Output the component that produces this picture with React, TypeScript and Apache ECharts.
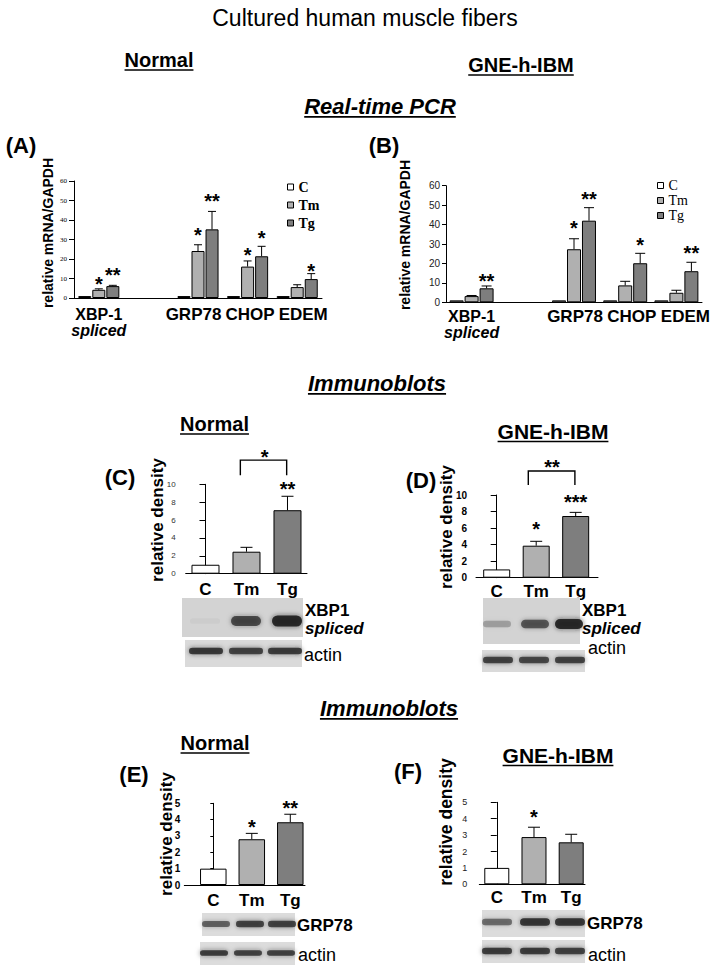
import React, { useEffect, useRef } from 'react';
import * as echarts from 'echarts';

const SANS = '"Liberation Sans", Arial, Helvetica, sans-serif';
const SERIF = '"Liberation Serif", "Times New Roman", serif';

// ---------------- data ----------------
const treatments = ['C', 'Tm', 'Tg'];
const pcrGenes = ['XBP-1', '', 'GRP78', 'CHOP', 'EDEM'];
const pcrSubLabel = 'spliced';

// (A) Normal, real-time PCR (relative mRNA/GAPDH)
const aC = [1, null, 1, 1, 1];
const aTm = [4.2, null, 24.1, 16.1, 5.6];
const aTg = [6.1, null, 35.2, 21.4, 9.7];
const aTmErr = [4.7, null, 27.3, 19.0, 6.8];
const aTgErr = [6.5, null, 44.4, 26.5, 12.5];
const aStars: [number, number, number, string][] = [
  [0, 1, 9.7, '*'], [0, 2, 14.1, '**'], [2, 1, 34.4, '*'], [2, 2, 51.8, '**'],
  [3, 1, 24.4, '*'], [3, 2, 33.3, '*'], [4, 2, 16.2, '*'],
];

// (B) GNE-h-IBM, real-time PCR
const bC = [1, null, 1, 1, 1];
const bTm = [3.2, null, 27.3, 8.7, 4.9];
const bTg = [7.2, null, 42.0, 20.1, 16.0];
const bTmErr = [3.5, null, 32.7, 10.8, 6.2];
const bTgErr = [8.4, null, 48.7, 25.2, 20.6];
const bStars: [number, number, number, string][] = [
  [0, 2, 13.3, '**'], [2, 1, 40.3, '*'], [2, 2, 55.5, '**'], [3, 2, 31.9, '*'], [4, 2, 27.8, '**'],
];

// (C) Normal, XBP1 spliced immunoblot density
const cVals = [1, 2.46, 7.1];
const cErr = [null, 2.95, 8.66];
const cStars: [number, number, string][] = [[2, 10.0, '**'], [1.44, 13.55, '*']];
const cBracket = [0.85, 1.98, 12.7, 11.0];

// (D) GNE-h-IBM, XBP1 spliced
const dVals = [1, 3.87, 7.46];
const dErr = [null, 4.4, 7.9];
const dStars: [number, number, string][] = [[1, 6.4, '*'], [2, 9.7, '***'], [1.4, 13.9, '**']];
const dBracket = [0.8, 1.98, 12.9, 11.2];

// (E) Normal, GRP78
const eVals = [1, 2.8, 3.84];
const eErr = [null, 3.16, 4.33];
const eStars: [number, number, string][] = [[1, 3.83, '*'], [2, 5.0, '**']];

// (F) GNE-h-IBM, GRP78
const fVals = [1, 2.88, 2.56];
const fErr = [null, 3.48, 3.05];
const fStars: [number, number, string][] = [[1, 4.35, '*']];

// blot band intensities per lane (C, Tm, Tg)
const xbpNormalBands = [0.04, 0.8, 1.0];
const actinNormalBands = [0.9, 0.85, 0.88];
const xbpIbmBands = [0.3, 0.7, 1.0];
const actinIbmBands = [0.85, 0.82, 0.85];
const grpNormalBands = [0.65, 0.85, 0.85];
const actin2NormalBands = [0.88, 0.85, 0.85];
const grpIbmBands = [0.6, 0.92, 0.92];
const actin2IbmBands = [0.88, 0.88, 0.85];

// ---------------- styling ----------------
const COLORS = ['#ffffff', '#b0b0b0', '#7e7e7e'];

const measureCtx = (() => {
  const c = document.createElement('canvas');
  return c.getContext('2d') as CanvasRenderingContext2D;
})();
function textW(text: string, size: number, weight = 'normal', style = 'normal', family = SANS) {
  measureCtx.font = `${style} ${weight} ${size}px ${family}`;
  return measureCtx.measureText(text).width;
}

function txt(text: string, x: number, y: number, size: number, o: any = {}) {
  return {
    type: 'text', x, y, rotation: o.rotation || 0, z: 50,
    style: {
      text, fontFamily: o.family || SANS, fontSize: size, fontWeight: o.weight || 'normal',
      fontStyle: o.style || 'normal', fill: '#000', align: o.align || 'center', verticalAlign: 'middle',
    },
  };
}

function heading(text: string, cx: number, cy: number, size: number, weight: string, style: string, ul: boolean) {
  const out: any[] = [txt(text, cx, cy, size, { weight, style })];
  if (ul) {
    const w = textW(text, size, weight, style);
    const y = cy + size * 0.45 + 1;
    out.push({ type: 'line', z: 50, shape: { x1: cx - w / 2, y1: y, x2: cx + w / 2, y2: y }, style: { stroke: '#000', lineWidth: 1.6 } });
  }
  return out;
}

function blot(x: number, y: number, w: number, h: number, bandY: number, bandH: number, lanes: number[], laneW: number, bands: number[], bg: string) {
  const els: any[] = [{ type: 'rect', z: 40, shape: { x, y, width: w, height: h }, style: { fill: bg } }];
  bands.forEach((a, i) => {
    const hh = bandH * (0.5 + 0.5 * a);
    els.push({
      type: 'rect', z: 41,
      shape: { x: lanes[i] - laneW / 2, y: bandY - hh / 2, width: laneW, height: hh, r: hh / 2 },
      style: { fill: `rgba(30,30,30,${a * 0.9})`, shadowBlur: 5, shadowColor: `rgba(30,30,30,${a * 0.7})` },
    });
  });
  return els;
}

// ---------------- series builders ----------------
const errRender = (step: number, cap: number) => (params: any, api: any) => {
  const x = api.value(0), m = api.value(1), e = api.value(2), t = api.value(3);
  const p0 = api.coord([x, m]);
  const p1 = api.coord([x, e]);
  const cx = p0[0] + (t - 1) * step;
  return {
    type: 'group',
    children: [
      { type: 'line', shape: { x1: cx, y1: p0[1], x2: cx, y2: p1[1] }, style: { stroke: '#000', lineWidth: 1 } },
      { type: 'line', shape: { x1: cx - cap, y1: p1[1], x2: cx + cap, y2: p1[1] }, style: { stroke: '#000', lineWidth: 1 } },
    ],
  };
};

function pcrPanel(g: number, c: any[], tm: any[], tg: any[], tmErr: any[], tgErr: any[], stars: any[], barWidth: number, gap: string, step: number, cap: number) {
  const vals = [c, tm, tg];
  const series: any[] = treatments.map((name, k) => ({
    type: 'bar', name, xAxisIndex: g, yAxisIndex: g, data: vals[k], barWidth, barGap: gap,
    itemStyle: { color: COLORS[k], borderColor: '#000', borderWidth: 1 }, z: 2,
  }));
  const errData: number[][] = [];
  [tmErr, tgErr].forEach((arr, j) => arr.forEach((v: any, i: number) => {
    if (v != null) errData.push([i, vals[j + 1][i], v, j + 1]);
  }));
  series.push({ type: 'custom', xAxisIndex: g, yAxisIndex: g, clip: false, z: 5, data: errData, renderItem: errRender(step, cap) });
  series.push({
    type: 'custom', xAxisIndex: g, yAxisIndex: g, clip: false, z: 6,
    data: stars.map((s) => [s[0], s[2], s[1]]),
    renderItem: (params: any, api: any) => {
      const s = stars[params.dataIndex];
      const p = api.coord([api.value(0), api.value(1)]);
      return {
        type: 'text', x: p[0] + (api.value(2) - 1) * step, y: p[1] + 4.5,
        style: { text: s[3], fontFamily: SANS, fontSize: 20, fontWeight: 'bold', fill: '#000', align: 'center', verticalAlign: 'middle' },
      };
    },
  });
  return series;
}

function blotPanel(g: number, vals: number[], err: any[], stars: any[], bracket: number[] | null, barWidth: number, cap: number, labelDy: number, labelSize: number) {
  const series: any[] = [{
    type: 'bar', xAxisIndex: g, yAxisIndex: g, barWidth,
    data: vals.map((v, i) => ({ value: [i, v], itemStyle: { color: COLORS[i] } })),
    itemStyle: { borderColor: '#000', borderWidth: 1 }, z: 2,
  }];
  const errData: number[][] = [];
  err.forEach((v, i) => { if (v != null) errData.push([i, vals[i], v, 1]); });
  series.push({ type: 'custom', xAxisIndex: g, yAxisIndex: g, clip: false, z: 5, data: errData, renderItem: errRender(0, cap) });
  series.push({
    type: 'custom', xAxisIndex: g, yAxisIndex: g, clip: false, z: 6,
    data: stars.map((s) => [s[0], s[1]]),
    renderItem: (params: any, api: any) => {
      const s = stars[params.dataIndex];
      const p = api.coord([api.value(0), api.value(1)]);
      return {
        type: 'text', x: p[0], y: p[1] + 4.5,
        style: { text: s[2], fontFamily: SANS, fontSize: 20, fontWeight: 'bold', fill: '#000', align: 'center', verticalAlign: 'middle' },
      };
    },
  });
  series.push({
    type: 'custom', xAxisIndex: g, yAxisIndex: g, clip: false, z: 6,
    data: treatments.map((_, i) => [i, 0]),
    renderItem: (params: any, api: any) => {
      const p = api.coord([api.value(0), api.value(1)]);
      return {
        type: 'text', x: p[0], y: p[1] + labelDy,
        style: { text: treatments[params.dataIndex], fontFamily: SANS, fontSize: labelSize, fontWeight: 'bold', fill: '#000', align: 'center', verticalAlign: 'middle' },
      };
    },
  });
  if (bracket) {
    series.push({
      type: 'custom', xAxisIndex: g, yAxisIndex: g, clip: false, z: 6,
      data: [bracket],
      renderItem: (params: any, api: any) => {
        const a = api.coord([api.value(0), api.value(3)]);
        const b = api.coord([api.value(0), api.value(2)]);
        const c = api.coord([api.value(1), api.value(2)]);
        const d = api.coord([api.value(1), api.value(3)]);
        return { type: 'polyline', shape: { points: [a, b, c, d] }, style: { stroke: '#000', lineWidth: 1.4, fill: 'none' } };
      },
    });
  }
  return series;
}

function yAx(g: number, max: number, interval: number, fontSize: number, family: string, weight: string, margin: number, tickLen: number, color = '#000') {
  return {
    type: 'value', gridIndex: g, min: 0, max, interval,
    axisLine: { show: true, lineStyle: { color: '#000', width: 1 } },
    axisTick: { show: true, length: tickLen, lineStyle: { color: '#000' } },
    axisLabel: { fontSize, fontFamily: family, fontWeight: weight, color, margin },
    splitLine: { show: false },
  };
}

function xValAx(g: number, min: number, max: number) {
  return {
    type: 'value', gridIndex: g, min, max,
    axisLine: { show: true, onZero: false, lineStyle: { color: '#000', width: 1 } },
    axisTick: { show: false }, axisLabel: { show: false }, splitLine: { show: false },
  };
}

// label nudges (px of padding) so the gene names sit as in the original figure
function xCatAx(g: number, margin: number, pads: number[][]) {
  const base = { fontFamily: SANS, fontWeight: 'bold', fontSize: 17, lineHeight: 16, color: '#000' };
  return {
    type: 'category', gridIndex: g, data: pcrGenes,
    axisLine: { lineStyle: { color: '#000', width: 1 } }, axisTick: { show: false },
    axisLabel: {
      interval: 0, margin,
      formatter: (v: string) => {
        if (v === 'XBP-1') return `{a|${v}}\n{b|${pcrSubLabel}}`;
        const i = pcrGenes.indexOf(v);
        return v ? `{g${i}|${v}}` : '';
      },
      rich: {
        a: { ...base, fontSize: 16 },
        b: { ...base, fontSize: 16, fontStyle: 'italic' },
        g2: { ...base, padding: pads[0] },
        g3: { ...base, padding: pads[1] },
        g4: { ...base, padding: pads[2] },
      },
    },
  };
}

function buildOption() {
  const grids = [
    { left: 74, top: 181, width: 248, height: 117 },
    { left: 446, top: 185.7, width: 256, height: 116.6 },
    { left: 185.7, top: 484.3, width: 121.3, height: 89.4 },
    { left: 476, top: 495, width: 122, height: 82.7 },
    { left: 184.3, top: 803.3, width: 120.7, height: 81.7 },
    { left: 479.3, top: 802.3, width: 105.7, height: 82 },
  ].map((g) => ({ ...g, outerBoundsMode: 'none', containLabel: false }));

  const xAxis = [
    xCatAx(0, 8, [[0, 9, 0, 0], [0, 0, 0, 5], [0, 0, 0, 12]]),
    xCatAx(1, 6, [[0, 0, 0, 2], [0, 0, 0, 13], [0, 0, 0, 18]]),
    xValAx(2, -0.483, 2.476), xValAx(3, -0.524, 2.565), xValAx(4, -0.753, 2.382), xValAx(5, -0.47, 2.371),
  ];
  const yAxis = [
    yAx(0, 60, 10, 7, SERIF, 'normal', 7, 5),
    yAx(1, 60, 10, 10, SANS, 'normal', 6, 4, '#222'),
    yAx(2, 10, 2, 8, SANS, 'normal', 10, 6, '#333'),
    yAx(3, 10, 2, 10, SANS, 'bold', 9, 6),
    yAx(4, 5, 1, 10, SANS, 'bold', 4, 3),
    yAx(5, 5, 1, 9, SANS, 'normal', 12, 6, '#222'),
  ];

  const series = [
    ...pcrPanel(0, aC, aTm, aTg, aTmErr, aTgErr, aStars, 13, '8%', 14, 4),
    ...pcrPanel(1, bC, bTm, bTg, bTmErr, bTgErr, bStars, 14, '7%', 15, 5),
    ...blotPanel(2, cVals, cErr, cStars, cBracket, 28, 6, 16, 17),
    ...blotPanel(3, dVals, dErr, dStars, dBracket, 27, 6, 14, 17),
    ...blotPanel(4, eVals, eErr, eStars, null, 26.5, 6, 15, 17),
    ...blotPanel(5, fVals, fErr, fStars, null, 25, 6, 13, 17),
  ];

  const legendBase = {
    orient: 'vertical', icon: 'rect', itemWidth: 6, itemHeight: 6, selectedMode: false, padding: 0,
    data: treatments, itemStyle: { borderColor: '#000', borderWidth: 1 },
  };
  const legend = [
    { ...legendBase, left: 287, top: 180, itemGap: 4, textStyle: { fontFamily: SERIF, fontSize: 14, lineHeight: 14, fontWeight: 'bold', color: '#000' } },
    { ...legendBase, left: 657, top: 178.5, itemGap: 1, textStyle: { fontFamily: SERIF, fontSize: 14, lineHeight: 13, color: '#000' } },
  ];

  const graphic: any[] = [
    ...heading('Cultured human muscle fibers', 365, 18, 23, 'normal', 'normal', false),
    ...heading('Normal', 159, 60, 20, 'bold', 'normal', true),
    ...heading('GNE-h-IBM', 521, 65, 20, 'bold', 'normal', true),
    ...heading('Real-time PCR', 380, 106, 22, 'bold', 'italic', true),
    ...heading('Immunoblots', 377, 383, 22, 'bold', 'italic', true),
    ...heading('Normal', 214.5, 424, 20, 'bold', 'normal', true),
    ...heading('GNE-h-IBM', 553, 431, 21, 'bold', 'normal', true),
    ...heading('Immunoblots', 389, 708, 22, 'bold', 'italic', true),
    ...heading('Normal', 215, 743, 20, 'bold', 'normal', true),
    ...heading('GNE-h-IBM', 558, 755, 21, 'bold', 'normal', true),
    txt('(A)', 21, 145, 22, { weight: 'bold' }),
    txt('(B)', 384, 145, 22, { weight: 'bold' }),
    txt('(C)', 120, 477, 22, { weight: 'bold' }),
    txt('(D)', 421, 480, 22, { weight: 'bold' }),
    txt('(E)', 134, 774, 22, { weight: 'bold' }),
    txt('(F)', 408, 771, 22, { weight: 'bold' }),
    txt('relative mRNA/GAPDH', 48, 233, 14, { weight: 'bold', rotation: Math.PI / 2 }),
    txt('relative mRNA/GAPDH', 405, 235, 14, { weight: 'bold', rotation: Math.PI / 2 }),
    txt('relative density', 157, 520, 17, { weight: 'bold', rotation: Math.PI / 2 }),
    txt('relative density', 446, 527, 17, { weight: 'bold', rotation: Math.PI / 2 }),
    txt('relative density', 166, 834, 17, { weight: 'bold', rotation: Math.PI / 2 }),
    txt('relative density', 446, 822, 17.5, { weight: 'bold', rotation: Math.PI / 2 }),
    // blots
    ...blot(182, 598, 121, 39, 621, 11, [205, 246, 287], 30, xbpNormalBands, '#d3d3d3'),
    ...blot(185, 640, 117, 27, 651, 7, [206, 246, 285], 34, actinNormalBands, '#dadada'),
    ...blot(483, 598, 97, 46, 624, 10, [497, 535, 569], 28, xbpIbmBands, '#d3d3d3'),
    ...blot(482, 650, 103, 22, 660, 7, [498, 534, 570], 30, actinIbmBands, '#dadada'),
    ...blot(202, 913, 93, 23, 924, 7, [216, 250, 282], 28, grpNormalBands, '#dcdcdc'),
    ...blot(200, 942, 95, 23, 953, 6, [214, 248, 281], 28, actin2NormalBands, '#dcdcdc'),
    ...blot(482, 910, 103, 27, 922, 8, [497, 535, 570], 30, grpIbmBands, '#dcdcdc'),
    ...blot(482, 940, 103, 23, 951, 7, [497, 535, 570], 30, actin2IbmBands, '#dcdcdc'),
    txt('XBP1', 305, 610, 17, { weight: 'bold', align: 'left' }),
    txt('spliced', 305, 628, 17, { weight: 'bold', style: 'italic', align: 'left' }),
    txt('actin', 304, 655, 18, { align: 'left' }),
    txt('XBP1', 582, 610, 17, { weight: 'bold', align: 'left' }),
    txt('spliced', 582, 628, 17, { weight: 'bold', style: 'italic', align: 'left' }),
    txt('actin', 588, 648, 18, { align: 'left' }),
    txt('GRP78', 297, 925, 17, { weight: 'bold', align: 'left' }),
    txt('actin', 298, 955, 18, { align: 'left' }),
    txt('GRP78', 587, 923, 17, { weight: 'bold', align: 'left' }),
    txt('actin', 588, 955, 18, { align: 'left' }),
  ];

  return {
    animation: false,
    backgroundColor: '#ffffff',
    grid: grids,
    xAxis,
    yAxis,
    legend,
    series,
    graphic,
  };
}

export default function App() {
  const ref = useRef<HTMLDivElement>(null);
  useEffect(() => {
    if (!ref.current) return;
    const chart = echarts.init(ref.current, null, { renderer: 'svg' });
    chart.setOption(buildOption() as any);
    return () => chart.dispose();
  }, []);
  return <div ref={ref} style={{ position: 'absolute', left: 0, top: 0, width: 714, height: 977, background: '#fff' }} />;
}
